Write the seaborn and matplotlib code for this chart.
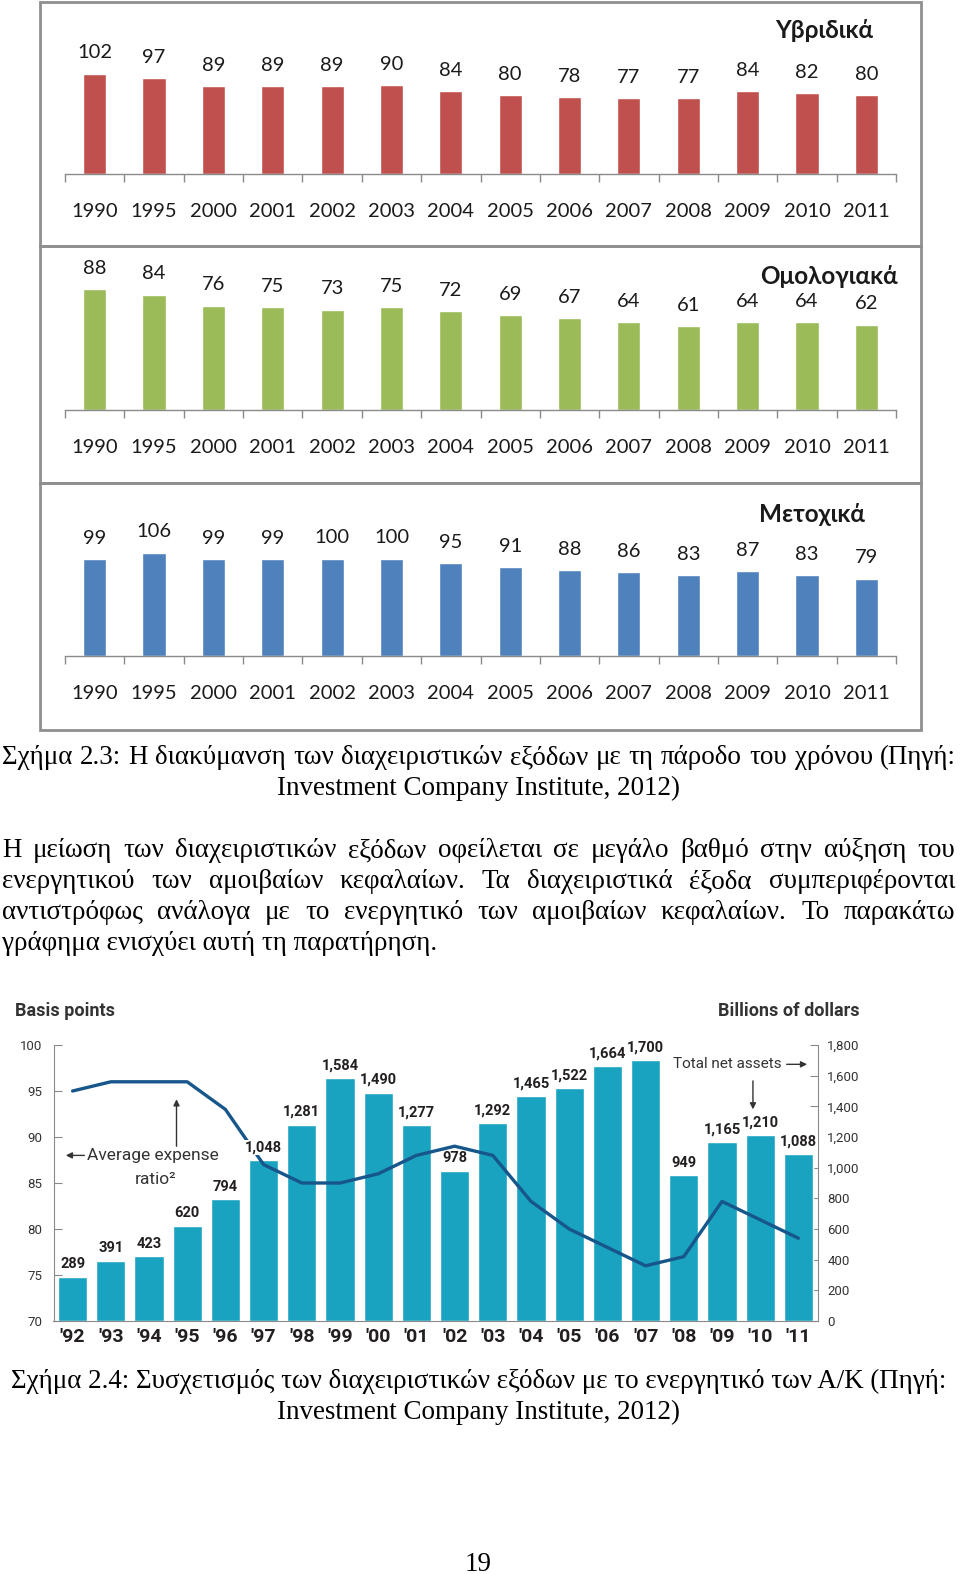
import numpy as np
import pandas as pd
import matplotlib
matplotlib.use('Agg')
import matplotlib.pyplot as plt
from matplotlib.patches import Rectangle
from matplotlib.ticker import FuncFormatter
import seaborn as sns

## data

years = ['1990', '1995', '2000', '2001', '2002', '2003', '2004',
         '2005', '2006', '2007', '2008', '2009', '2010', '2011']
hybrid = [102, 97, 89, 89, 89, 90, 84, 80, 78, 77, 77, 84, 82, 80]
bond = [88, 84, 76, 75, 73, 75, 72, 69, 67, 64, 61, 64, 64, 62]
equity = [99, 106, 99, 99, 100, 100, 95, 91, 88, 86, 83, 87, 83, 79]
panel_titles = ['Υβριδικά', 'Ομολογιακά', 'Μετοχικά']

short_years = ["'92", "'93", "'94", "'95", "'96", "'97", "'98", "'99", "'00", "'01",
               "'02", "'03", "'04", "'05", "'06", "'07", "'08", "'09", "'10", "'11"]
total_assets = [289, 391, 423, 620, 794, 1048, 1281, 1584, 1490, 1277,
                978, 1292, 1465, 1522, 1664, 1700, 949, 1165, 1210, 1088]
expense_ratio = [95, 96, 96, 96, 93, 87, 85, 85, 86, 88,
                 89, 88, 83, 80, 78, 76, 77, 83, 81, 79]

caption1 = ["Σχήμα 2.3:  Η διακύμανση των διαχειριστικών εξόδων με τη πάροδο του χρόνου (Πηγή:",
            "Investment Company Institute, 2012)"]
paragraph = ["Η μείωση των διαχειριστικών εξόδων οφείλεται σε μεγάλο βαθμό στην αύξηση του",
             "ενεργητικού των αμοιβαίων κεφαλαίων. Τα διαχειριστικά έξοδα συμπεριφέρονται",
             "αντιστρόφως ανάλογα με το ενεργητικό των αμοιβαίων κεφαλαίων. Το παρακάτω",
             "γράφημα ενισχύει αυτή τη παρατήρηση."]
caption2 = ["Σχήμα 2.4: Συσχετισμός των διαχειριστικών εξόδων με το ενεργητικό των Α/Κ (Πηγή:",
            "Investment Company Institute, 2012)"]

sns.set_style('white')
plt.rcParams['font.family'] = ['Lato', 'DejaVu Sans']

W, H = 960, 1574
fig = plt.figure(figsize=(W / 100, H / 100), dpi=100)


def axrect(x0, y0, x1, y1):
    return [x0 / W, 1 - y1 / H, (x1 - x0) / W, (y1 - y0) / H]


## top: three panels of expense ratios

panels = [
    (hybrid, '#c0504d', 2, 246, 12, 173.5, 0.98, (824, 31)),
    (bond, '#9bbb59', 246, 483, 252, 409.5, 1.364, (829, 276)),
    (equity, '#4f81bd', 483, 730, 490, 656, 0.975, (812, 515)),
]

for (vals, color, fy0, fy1, top, base, scale, tpos), title in zip(panels, panel_titles):
    fig.add_artist(Rectangle((40 / W, 1 - fy1 / H), 881 / W, (fy1 - fy0) / H,
                             transform=fig.transFigure, fill=False,
                             ec='#8f8f8f', lw=2))
    ax = fig.add_axes(axrect(65, top, 896, base))
    df = pd.DataFrame({'year': years, 'value': vals})
    sns.barplot(data=df, x='year', y='value', color=color, saturation=1,
                width=0.39, ax=ax)
    ax.set_ylim(0, (base - top) / scale)
    ax.set_xlim(-0.5, len(years) - 0.5)
    ax.bar_label(ax.containers[0], padding=9, fontsize=14.5, color='#1a1a1a')
    ax.set_xlabel('')
    ax.set_ylabel('')
    ax.set_yticks([])
    for s in ['top', 'left', 'right']:
        ax.spines[s].set_visible(False)
    ax.spines['bottom'].set_color('#8a8a8a')
    ax.spines['bottom'].set_linewidth(1)
    ax.set_xticks(np.arange(-0.5, len(years), 1), minor=True)
    ax.tick_params(axis='x', which='major', length=0, pad=21, labelsize=14.5,
                   labelcolor='#1a1a1a')
    ax.tick_params(axis='x', which='minor', length=6, width=1, color='#8a8a8a',
                   direction='out', bottom=True)
    ax.patch.set_visible(False)
    fig.text(tpos[0] / W, 1 - tpos[1] / H, title, ha='center', va='center',
             fontsize=17.5, fontweight='bold', color='#1a1a1a')


## bottom: assets vs expense ratio

narrow = ['Roboto', 'DejaVu Sans']
dark = '#231f20'
grey = '#8a8a8a'

ax_line = fig.add_axes(axrect(53.5, 1045, 817.5, 1321))
ax_bar = ax_line.twinx()
ax_line.set_zorder(ax_bar.get_zorder() + 1)
ax_line.patch.set_visible(False)

bdf = pd.DataFrame({'year': short_years, 'assets': total_assets,
                    'ratio': expense_ratio, 'pos': np.arange(len(short_years))})
sns.barplot(data=bdf, x='year', y='assets', color='#1aa3c1', saturation=1,
            width=0.76, ax=ax_bar)
sns.lineplot(data=bdf, x='pos', y='ratio', color='#17568a', linewidth=2.4,
             ax=ax_line)

ax_bar.set_ylim(0, 1800)
ax_bar.set_yticks(range(0, 1801, 200))
ax_bar.yaxis.set_major_formatter(FuncFormatter(lambda v, p: f'{v:,.0f}'))
ax_line.set_ylim(70, 100)
ax_line.set_yticks(range(70, 101, 5))
ax_line.set_xlim(-0.5, len(short_years) - 0.5)
ax_line.set_xticks(range(len(short_years)))
ax_line.set_xticklabels(short_years)
for a in (ax_line, ax_bar):
    a.set_xlabel('')
    a.set_ylabel('')
    a.spines['top'].set_visible(False)
ax_line.spines['right'].set_visible(False)
ax_bar.spines['left'].set_visible(False)
ax_bar.spines['bottom'].set_visible(False)
for s in ['left', 'bottom']:
    ax_line.spines[s].set_color(grey)
ax_bar.spines['right'].set_color(grey)

ax_line.tick_params(axis='y', direction='in', length=6, color=grey, pad=8,
                    labelsize=9.5, labelcolor='#333333', labelfontfamily=narrow)
ax_bar.tick_params(axis='y', direction='in', length=6, color=grey, pad=7,
                   labelsize=9.5, labelcolor='#333333', labelfontfamily=narrow)
ax_line.tick_params(axis='x', length=0, pad=5, labelsize=14, labelcolor=dark,
                    labelfontfamily=narrow)
for lab in ax_line.get_xticklabels():
    lab.set_fontweight('bold')

for i, v in enumerate(total_assets):
    ax_line.annotate(f'{v:,}', xy=(i, v), xycoords=ax_bar.transData,
                     xytext=(0, 4), textcoords='offset points',
                     ha='center', va='bottom', fontsize=10.5, fontweight='bold',
                     family=narrow, color=dark, zorder=6,
                     bbox=dict(boxstyle='square,pad=0.05', fc='white', ec='none'))

arrow = dict(arrowstyle='-|>', color='#333333', lw=1, mutation_scale=9)
ax_line.text(0.38, 88.0, 'Average expense', ha='left', va='center',
             fontsize=12.5, family=narrow, color='#333333')
ax_line.text(2.16, 85.4, 'ratio²', ha='center', va='center',
             fontsize=12.5, family=narrow, color='#333333')
ax_line.annotate('', xy=(-0.25, 88.0), xytext=(0.38, 88.0), arrowprops=arrow)
ax_line.annotate('', xy=(2.72, 94.4), xytext=(2.72, 88.7), arrowprops=arrow)
ax_line.text(18.57, 97.9, 'Total net assets', ha='right', va='center',
             fontsize=11, family=narrow, color='#333333')
ax_line.annotate('', xy=(19.3, 97.9), xytext=(18.62, 97.9), arrowprops=arrow)
ax_line.annotate('', xy=(17.81, 92.7), xytext=(17.81, 96.4), arrowprops=arrow)

fig.text(15 / W, 1 - 1011 / H, 'Basis points', ha='left', va='center',
         fontsize=13, fontweight='bold', family=narrow, color='#333333')
fig.text(860 / W, 1 - 1011 / H, 'Billions of dollars', ha='right', va='center',
         fontsize=13, fontweight='bold', family=narrow, color='#333333')


## body text

serif = ['Liberation Serif', 'DejaVu Serif']
renderer = fig.canvas.get_renderer()


def width_of(s, size):
    t = fig.text(0, 0, s, fontsize=size, family=serif)
    w = t.get_window_extent(renderer).width
    t.remove()
    return w


body_size = 16 * 937 / width_of(caption2[0], 16)


def put_line(s, y, mode, x0=2, x1=955):
    if mode == 'center':
        fig.text((x0 + x1) / 2 / W, 1 - y / H, s, ha='center', va='baseline',
                 fontsize=body_size, family=serif, color='black')
    elif mode == 'left':
        fig.text(x0 / W, 1 - y / H, s, ha='left', va='baseline',
                 fontsize=body_size, family=serif, color='black')
    else:
        words = s.split()
        ws = [width_of(w, body_size) for w in words]
        gap = (x1 - x0 - sum(ws)) / (len(words) - 1)
        x = x0
        for w, ww in zip(words, ws):
            fig.text(x / W, 1 - y / H, w, ha='left', va='baseline',
                     fontsize=body_size, family=serif, color='black')
            x += ww + gap


put_line(caption1[0], 764, 'justify', 2, 956)
put_line(caption1[1], 795, 'center')
for k, line in enumerate(paragraph):
    put_line(line, 857 + 31 * k, 'justify' if k < 3 else 'left')
put_line(caption2[0], 1388, 'center', 10, 948)
put_line(caption2[1], 1419, 'center')
put_line('19', 1571, 'center')

fig.savefig('out.png', dpi=100)
